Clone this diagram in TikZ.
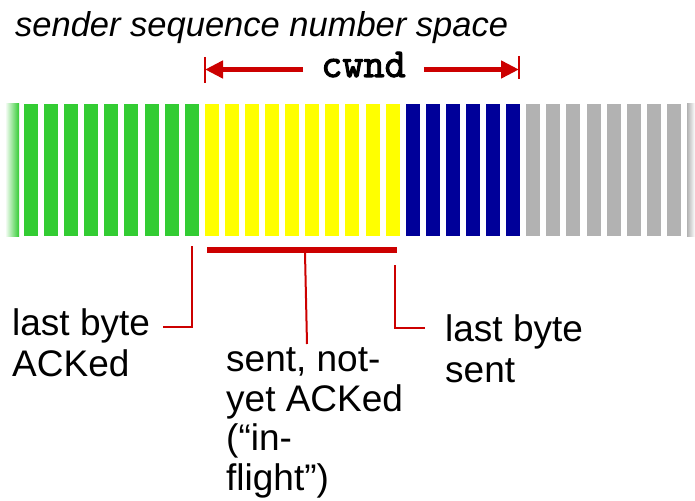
\documentclass[tikz,border=0pt]{standalone}
\usepackage{fontspec}
\setmainfont{Liberation Sans}
\newfontfamily\cwndfont[FakeBold=2.5]{Latin Modern Mono}
\usetikzlibrary{arrows.meta, positioning}
\definecolor{ackgreen}{RGB}{51,204,51}
\definecolor{flyyellow}{RGB}{255,255,0}
\definecolor{sentblue}{RGB}{0,0,153}
\definecolor{freegray}{RGB}{178,178,178}
\definecolor{markred}{RGB}{204,0,0}
\tikzset{
    seqbar/.style={fill=#1},
    label/.style={anchor=base west, align=left, inner sep=0pt, font=\fontsize{37}{41}\selectfont},
    lead/.style={draw=markred, line width=2pt},
    bracket/.style={draw=markred, line width=6pt},
    cwndarrow/.style={draw=markred, line width=5pt, -{Triangle[length=18pt,width=17pt]}},
    cwndtick/.style={draw=markred, line width=2pt}
}

\begin{document}
\begin{tikzpicture}[x=1pt, y=-1pt]
    \useasboundingbox (0,0) rectangle (695,500);

    % Title
    \node[anchor=base west, inner sep=0pt, font=\fontsize{34.5}{40}\selectfont\itshape] (title) at (15,37) {sender sequence number space};

    % Sequence number bars
    \foreach \first/\last/\col in {0/8/ackgreen, 9/18/flyyellow, 19/24/sentblue, 25/32/freegray} {
        \foreach \i in {\first,...,\last} {
            \fill[seqbar=\col] ({24+20.09*\i},104) rectangle ++(14,132);
        }
    }
    \shade[left color=white, right color=ackgreen] (5,104) rectangle (19,236);
    \shade[left color=freegray, right color=white] (687,104) rectangle (695,236);

    % cwnd window
    \coordinate (cwndL) at (205,69.5);
    \coordinate (cwndR) at (519,69.5);
    \node[anchor=base, inner xsep=18pt, inner ysep=0pt, font=\fontsize{41}{44}\selectfont\cwndfont] (cwnd) at (363.5,77) {cwnd};
    \draw[cwndarrow] (cwnd.west |- cwndL) -- (cwndL);
    \draw[cwndarrow] (cwnd.east |- cwndR) -- (cwndR);
    \draw[cwndtick] (205,57) -- (205,83);
    \draw[cwndtick] (519,56) -- (519,79);

    % In-flight bracket
    \coordinate (flightL) at (207,250);
    \coordinate (flightR) at (397,250);
    \coordinate (flightmid) at (305,253);
    \coordinate (flightend) at (307,344);
    \draw[bracket] (flightL) -- (flightR);
    \draw[lead] (flightmid) -- (flightend);

    % Labels
    \node[label] (ackedlbl) at (12,376) {last byte\\ACKed};
    \node[label, font=\fontsize{37}{39.5}\selectfont] (flightlbl) at (226,490) {sent, not-\\yet ACKed\\(“in-\\flight”)};
    \node[label] (sentlbl) at (445,382) {last byte\\sent};

    % Leaders
    \coordinate (ackedtop) at (192,246);
    \coordinate (ackedend) at (163,327);
    \coordinate (senttop) at (395,265);
    \coordinate (sentend) at (425,328);
    \draw[lead] (ackedtop) |- (ackedend);
    \draw[lead] (senttop) |- (sentend);
\end{tikzpicture}
\end{document}
